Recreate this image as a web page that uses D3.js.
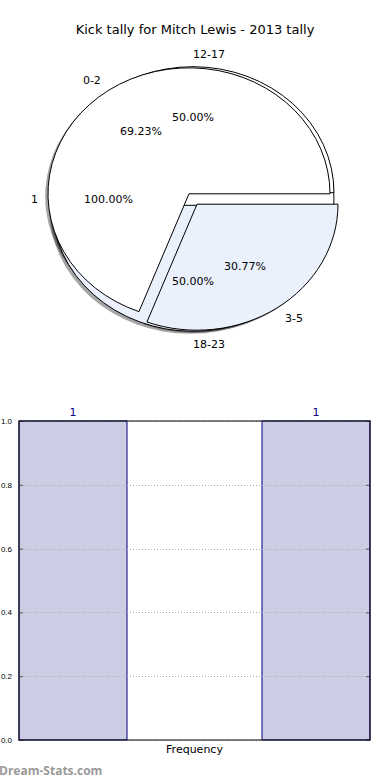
<!DOCTYPE html>
<html>
<head>
<meta charset="utf-8">
<script src="https://cdn.jsdelivr.net/npm/d3@7"></script>
<style>
  body { margin: 0; background: #fff; }
  svg { display: block; font-family: "DejaVu Sans", sans-serif; }
</style>
</head>
<body>
<div id="chart"></div>
<script>
// pie data (three pies drawn on the same axes)
var pieALabels = ['1'];
var pieAValues = [1];
var pieCLabels = ['12-17', '18-23'];
var pieCValues = [1, 1];
var pieBLabels = ['0-2', '3-5'];
var pieBValues = [9, 4];

// frequency bars
var barStarts = [0, 2.25];
var barValues = [1, 1];
var barLabels = ['1', '1'];
var barWidth = 1;
var yTicks = [0, 0.2, 0.4, 0.6, 0.8, 1.0];

var width = 390, height = 780;
var svg = d3.select('#chart').append('svg')
    .attr('width', width)
    .attr('height', height);

svg.append('text')
    .attr('x', 195).attr('y', 34)
    .attr('text-anchor', 'middle')
    .style('font-size', '13px')
    .text('Kick tally for Mitch Lewis - 2013 tally');

// ---- pie ----
var cx = 193, cy = 199, rx = 141, ry = 126;
var wedgeColors = ['#ffffff', '#eaf0fc'];

// matplotlib style: start at 3 o'clock, counter-clockwise
var pie = d3.pie().sort(null).startAngle(Math.PI / 2).endAngle(Math.PI / 2 - 2 * Math.PI);
var arc = d3.arc().innerRadius(0).outerRadius(1);

var pies = [
    { labels: pieALabels, values: pieAValues, explode: 0 },
    { labels: pieCLabels, values: pieCValues, explode: 0.05 },
    { labels: pieBLabels, values: pieBValues, explode: 0.05 }
];

var wedges = [];
pies.forEach(function (p) {
    var total = d3.sum(p.values);
    pie(p.values).forEach(function (d, i) {
        var mid = (d.startAngle + d.endAngle) / 2;
        wedges.push({
            arc: d,
            mid: mid,
            ox: Math.sin(mid) * p.explode * rx,
            oy: -Math.cos(mid) * p.explode * ry,
            explode: p.explode,
            color: wedgeColors[i % 2],
            label: p.labels[i],
            pct: (100 * p.values[i] / total).toFixed(2) + '%'
        });
    });
});

var pieG = svg.append('g');

// shadows go underneath every wedge
pieG.selectAll('path.shadow').data(wedges).enter().append('path')
    .attr('class', 'shadow')
    .attr('d', function (d) { return arc(d.arc); })
    .attr('transform', function (d) {
        return 'translate(' + (cx + d.ox - 0.02 * rx) + ',' + (cy + d.oy + 0.02 * ry) + ') scale(' + rx + ',' + ry + ')';
    })
    .attr('fill', '#000')
    .attr('fill-opacity', 0.35);

pieG.selectAll('path.wedge').data(wedges).enter().append('path')
    .attr('class', 'wedge')
    .attr('d', function (d) { return arc(d.arc); })
    .attr('transform', function (d) {
        return 'translate(' + (cx + d.ox) + ',' + (cy + d.oy) + ') scale(' + rx + ',' + ry + ')';
    })
    .attr('fill', function (d) { return d.color; })
    .attr('stroke', '#000')
    .attr('stroke-width', 1)
    .attr('vector-effect', 'non-scaling-stroke');

// outer labels
pieG.selectAll('text.lbl').data(wedges).enter().append('text')
    .attr('class', 'lbl')
    .attr('x', function (d) { return cx + Math.sin(d.mid) * (1.1 + d.explode) * rx; })
    .attr('y', function (d) { return cy - Math.cos(d.mid) * (1.1 + d.explode) * ry; })
    .attr('dy', '0.35em')
    .attr('text-anchor', function (d) { return Math.sin(d.mid) > -1e-9 ? 'start' : 'end'; })
    .style('font-size', '11px')
    .text(function (d) { return d.label; });

// percentages
pieG.selectAll('text.pct').data(wedges).enter().append('text')
    .attr('class', 'pct')
    .attr('x', function (d) { return cx + Math.sin(d.mid) * (0.6 + d.explode) * rx; })
    .attr('y', function (d) { return cy - Math.cos(d.mid) * (0.6 + d.explode) * ry; })
    .attr('dy', '0.35em')
    .attr('text-anchor', 'middle')
    .style('font-size', '11px')
    .text(function (d) { return d.pct; });

// ---- bar chart ----
var margin = { left: 19, top: 421, right: 20, bottom: 40 };
var plotW = width - margin.left - margin.right;
var plotH = 740 - margin.top;
var chart = svg.append('g')
    .attr('transform', 'translate(' + margin.left + ',' + margin.top + ')');

var xScale = d3.scaleLinear().domain([0, barStarts[1] + barWidth]).range([0, plotW]);
var yScale = d3.scaleLinear().domain([0, 1]).range([plotH, 0]);

// bars
chart.selectAll('rect.bar').data(barValues).enter().append('rect')
    .attr('class', 'bar')
    .attr('x', function (d, i) { return xScale(barStarts[i]); })
    .attr('y', function (d) { return yScale(d); })
    .attr('width', xScale(barWidth) - xScale(0))
    .attr('height', function (d) { return yScale(0) - yScale(d); })
    .attr('fill', '#ccccE4')
    .attr('stroke', '#000080')
    .attr('stroke-width', 1);

// dotted grid
chart.selectAll('line.grid').data(yTicks).enter().append('line')
    .attr('class', 'grid')
    .attr('x1', 0).attr('x2', plotW)
    .attr('y1', function (d) { return Math.round(yScale(d)) + 0.5; })
    .attr('y2', function (d) { return Math.round(yScale(d)) + 0.5; })
    .attr('stroke', '#aaaaaa')
    .attr('stroke-width', 1)
    .attr('stroke-dasharray', '1,2');

// y axis on the left, ticks pointing in
var yAxis = chart.append('g')
    .call(d3.axisLeft(yScale).tickValues(yTicks).tickFormat(d3.format('.1f')).tickSize(-4).tickPadding(7));
yAxis.select('.domain').remove();
yAxis.selectAll('text').style('font-size', '8px').attr('fill', '#000');
yAxis.selectAll('.tick line').attr('stroke', '#555');

// right side ticks
var yAxisR = chart.append('g')
    .attr('transform', 'translate(' + plotW + ',0)')
    .call(d3.axisRight(yScale).tickValues(yTicks).tickFormat('').tickSize(-4));
yAxisR.select('.domain').remove();
yAxisR.selectAll('.tick line').attr('stroke', '#555');

// frame
chart.append('rect')
    .attr('width', plotW).attr('height', plotH)
    .attr('fill', 'none')
    .attr('stroke', '#000')
    .attr('stroke-width', 1);

// bar value labels
chart.selectAll('text.val').data(barValues).enter().append('text')
    .attr('class', 'val')
    .attr('x', function (d, i) { return xScale(barStarts[i] + barWidth / 2); })
    .attr('y', function (d) { return yScale(d) - 5; })
    .attr('text-anchor', 'middle')
    .attr('fill', '#000080')
    .style('font-size', '11px')
    .text(function (d, i) { return barLabels[i]; });

chart.append('text')
    .attr('x', plotW / 2).attr('y', plotH + 13)
    .attr('text-anchor', 'middle')
    .style('font-size', '11px')
    .text('Frequency');

svg.append('text')
    .attr('x', -1).attr('y', 775)
    .attr('fill', '#999')
    .style('font-size', '12px')
    .style('font-weight', 'bold')
    .style('font-family', '"Open Sans", "DejaVu Sans", sans-serif')
    .text('Dream-Stats.com');
</script>
</body>
</html>
